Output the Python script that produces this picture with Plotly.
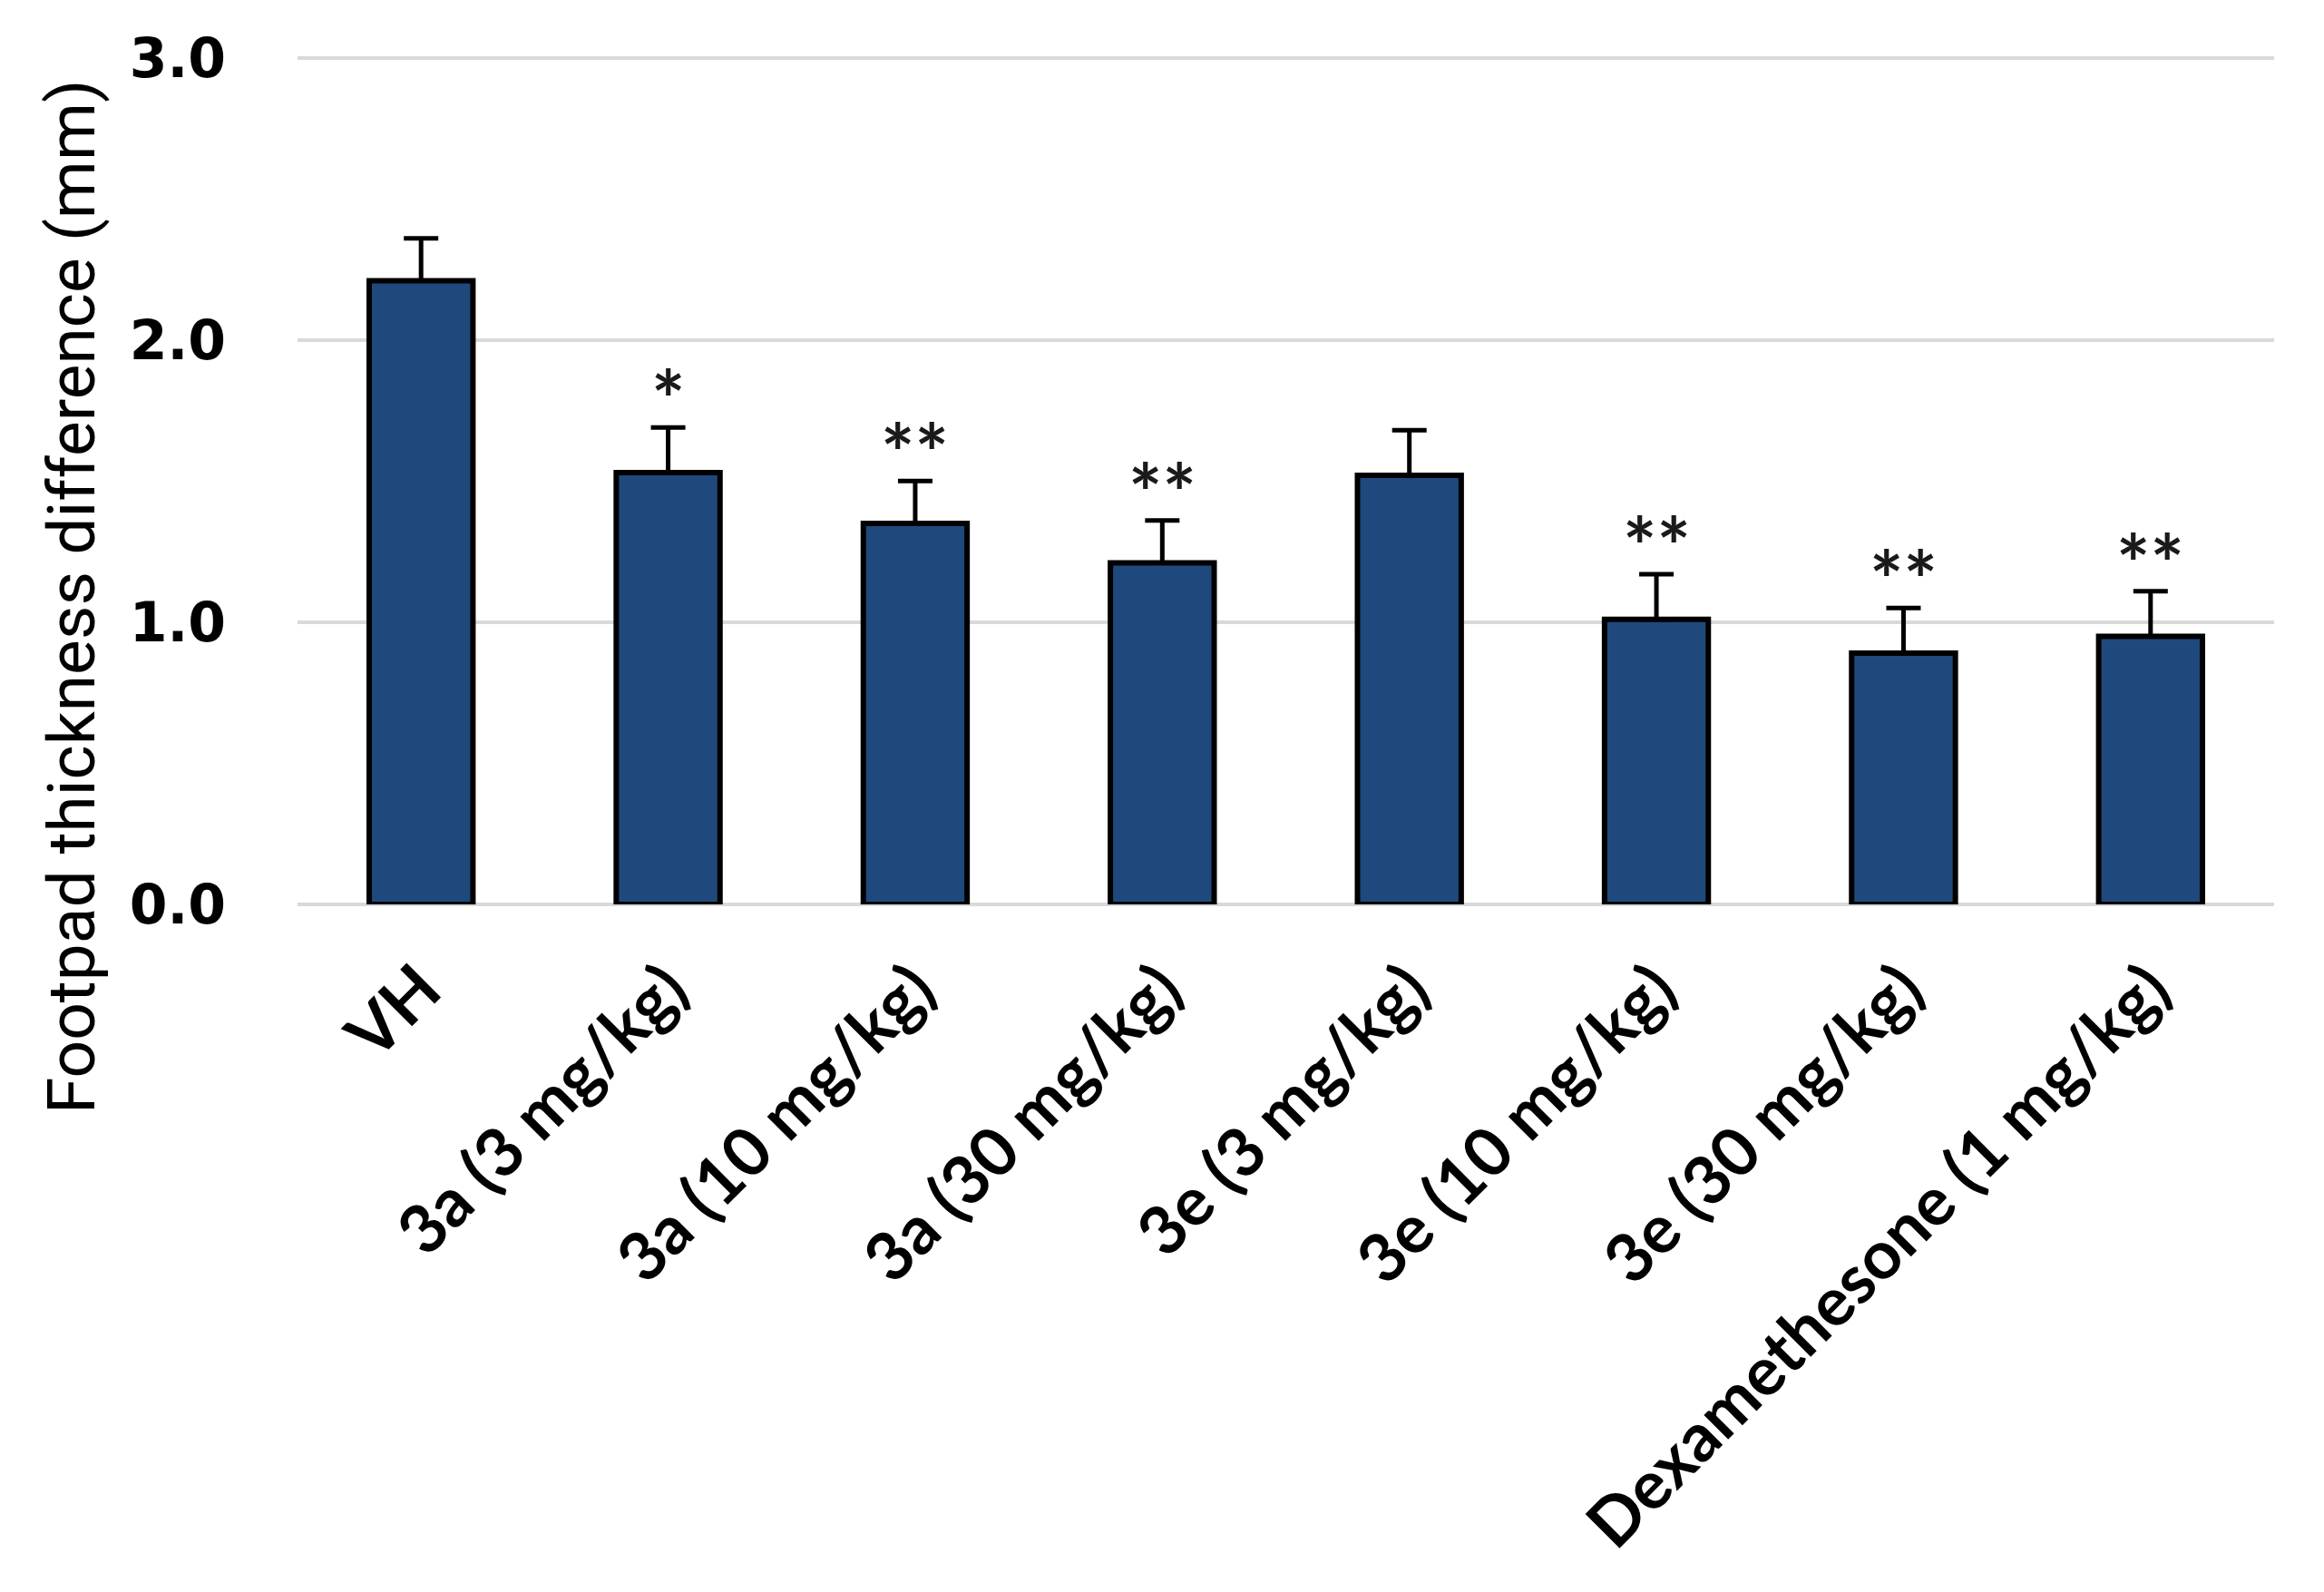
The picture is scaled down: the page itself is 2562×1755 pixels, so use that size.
import plotly.graph_objects as go

categories = ["VH", "3a (3 mg/kg)", "3a (10 mg/kg)", "3a (30 mg/kg)", "3e (3 mg/kg)",
              "3e (10 mg/kg)", "3e (30 mg/kg)", "Dexamethesone (1 mg/kg)"]
values = [2.21, 1.53, 1.35, 1.21, 1.52, 1.01, 0.89, 0.95]
errors = [0.15, 0.16, 0.15, 0.15, 0.16, 0.16, 0.16, 0.16]
stars = ["", "*", "**", "**", "", "**", "**", "**"]
y_ticks = [0, 1, 2, 3]

OFF = 8  # default body margin of the page
W, H = 2562 - OFF, 1755 - OFF
L, R, T, B = 328 - OFF, 55, 58 - OFF, 758
YMAX = 3.018

fig = go.Figure()
fig.add_trace(go.Bar(
    x=categories, y=values,
    marker=dict(color="#1F497D", line=dict(color="black", width=6)),
    error_y=dict(type="data", symmetric=False, array=errors,
                 arrayminus=[0] * len(errors), color="black", thickness=5, width=19),
    width=0.42,
))

annotations = []
for c, v, e, s in zip(categories, values, errors, stars):
    if s:
        annotations.append(dict(
            x=c, y=v + e, xref="x", yref="y", text=s, showarrow=False,
            xanchor="center", yanchor="bottom", yshift=-23,
            font=dict(family="Lato", size=88, color="#1a1a1a", weight="bold"),
        ))
annotations.append(dict(
    text="Footpad thickness difference (mm)", textangle=-90,
    xref="paper", yref="paper",
    x=(79 - 328) / (2562 - 328 - 55), y=0.361,
    xanchor="center", yanchor="middle", showarrow=False,
    font=dict(family="Roboto", size=73, color="black"),
))

fig.update_layout(
    width=W, height=H,
    margin=dict(l=L, r=R, t=T, b=B, autoexpand=False),
    plot_bgcolor="white", paper_bgcolor="white",
    showlegend=False,
    xaxis=dict(tickangle=-45, tickfont=dict(family="Lato", size=74, color="black", weight="bold"),
               showgrid=False, showline=False, zeroline=False, ticks="",
               ticklabelstandoff=34, automargin=False),
    yaxis=dict(range=[0, YMAX], tickvals=y_ticks, tickformat=".1f",
               tickfont=dict(family="DejaVu Sans", size=60, color="black", weight="bold"),
               showgrid=True, gridcolor="#D9D9D9", gridwidth=4,
               zeroline=True, zerolinecolor="#D9D9D9", zerolinewidth=4,
               showline=False, ticks="", ticklabelstandoff=78, automargin=False),
    annotations=annotations,
)

fig.write_html("out.html")
